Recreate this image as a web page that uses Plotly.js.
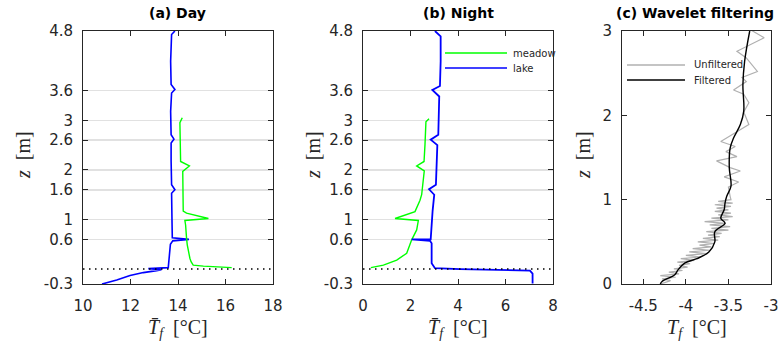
<!DOCTYPE html>
<html>
<head>
<meta charset="utf-8">
<script src="https://cdn.plot.ly/plotly-3.0.1.min.js"></script>
<style>html,body{margin:0;padding:0;background:#fff;}#chart{width:781px;height:345px;}</style>
</head>
<body>
<div id="chart"></div>
<script>
// ---------- DATA ----------
// Panel (a) Day
const dayLakeZ = [4.8, 4.73, 4.19, 3.72, 3.62, 3.55, 3.18, 2.71, 2.62, 2.54, 2.18, 1.70, 1.60, 1.53, 0.90, 0.63, 0.60, 0.57, 0.50, 0.30, 0.08, 0.03, 0.01, -0.01, -0.03, -0.07, -0.13, -0.22, -0.3];
const dayLakeT = [13.87, 13.73, 13.69, 13.71, 13.87, 13.73, 13.69, 13.71, 13.83, 13.71, 13.71, 13.73, 13.87, 13.73, 13.75, 13.76, 14.46, 13.78, 13.68, 13.65, 13.62, 13.59, 12.75, 13.3, 13.1, 12.54, 11.98, 11.42, 10.8];
const dayMeadowZ = [3.05, 2.95, 2.17, 2.08, 1.97, 1.17, 1.13, 1.02, 0.98, 0.89, 0.62, 0.49, 0.22, 0.15, 0.08, 0.06, 0.03];
const dayMeadowT = [14.18, 14.08, 14.11, 14.48, 14.2, 14.22, 14.36, 15.28, 14.29, 14.32, 14.36, 14.39, 14.5, 14.55, 14.64, 15.07, 16.26];
// Panel (b) Night
const nightLakeZ = [4.8, 4.69, 4.19, 3.69, 3.61, 3.48, 2.71, 2.61, 2.5, 1.70, 1.61, 1.50, 1.17, 0.83, 0.72, 0.60, 0.60, 0.57, 0.52, 0.12, 0.02, 0.0, -0.03, -0.09, -0.29];
const nightLakeT = [3.03, 3.27, 3.27, 3.24, 2.92, 3.21, 3.17, 2.85, 3.13, 3.07, 2.78, 3.0, 2.93, 2.89, 2.89, 2.85, 2.05, 2.82, 2.89, 2.89, 3.03, 4.08, 7.03, 7.14, 7.14];
const nightMeadowZ = [3.03, 2.97, 2.51, 2.17, 2.08, 1.98, 1.50, 1.39, 1.16, 1.02, 0.98, 0.79, 0.59, 0.32, 0.18, 0.08, 0.03];
const nightMeadowT = [2.78, 2.65, 2.61, 2.57, 2.26, 2.58, 2.47, 2.4, 2.19, 1.35, 2.33, 2.26, 2.05, 1.84, 1.42, 0.86, 0.33];
// Panel (c) Wavelet filtering
const unfilteredZ = [3.02, 2.92, 2.76, 2.68, 2.52, 2.45, 2.40, 2.30, 2.25, 2.15, 2.04, 1.89, 1.69, 1.63, 1.57, 1.51, 1.46, 1.38, 1.34, 1.27, 1.21, 1.15, 1.04,
  1.00, 0.98, 0.96, 0.94, 0.92, 0.90, 0.88, 0.86, 0.84, 0.82, 0.80, 0.78, 0.76, 0.74, 0.72, 0.70, 0.68, 0.66, 0.64, 0.62, 0.60, 0.58, 0.56, 0.54, 0.52, 0.50,
  0.48, 0.46, 0.44, 0.42, 0.40, 0.38, 0.36, 0.34, 0.32, 0.30, 0.28, 0.26, 0.24, 0.22, 0.20, 0.18, 0.16, 0.14, 0.12, 0.10, 0.08, 0.06, 0.04, 0.02, 0.0];
const unfilteredT = [-3.25, -3.08, -3.40, -3.29, -3.16, -3.34, -3.29, -3.44, -3.32, -3.26, -3.32, -3.26, -3.59, -3.42, -3.53, -3.40, -3.64, -3.48, -3.36, -3.55, -3.38, -3.50, -3.48,
  -3.47, -3.62, -3.45, -3.66, -3.47, -3.64, -3.50, -3.66, -3.47, -3.62, -3.45, -3.70, -3.50, -3.78, -3.53, -3.72, -3.48, -3.70, -3.50, -3.76, -3.58, -3.74, -3.60, -3.80, -3.62, -3.86,
  -3.66, -3.84, -3.70, -3.92, -3.72, -3.96, -3.76, -4.00, -3.82, -4.06, -3.90, -4.10, -3.95, -4.08, -3.98, -4.14, -4.04, -4.20, -4.08, -4.30, -4.12, -4.28, -4.18, -4.24, -4.30];
const filteredZ = [3.0, 2.64, 2.36, 2.05, 1.89, 1.73, 1.61, 1.38, 1.16, 1.04, 0.96, 0.88, 0.78, 0.72, 0.62, 0.50, 0.38, 0.30, 0.25, 0.17, 0.11, 0.03, 0.0];
const filteredT = [-3.25, -3.31, -3.33, -3.32, -3.36, -3.44, -3.48, -3.49, -3.47, -3.52, -3.54, -3.55, -3.59, -3.54, -3.66, -3.66, -3.73, -3.87, -4.01, -4.09, -4.13, -4.28, -4.30];

const panelTitles = ['(a) Day', '(b) Night', '(c) Wavelet filtering'];
const seriesNames = ['meadow', 'lake', 'Unfiltered', 'Filtered'];
const zTicksAB = [-0.3, 0.6, 1, 1.6, 2, 2.6, 3, 3.6, 4.8];
const zTickTextAB = ['-0.3', '0.6', '1', '1.6', '2', '2.6', '3', '3.6', '4.8'];
const zTicksC = [0, 1, 2, 3];
const xTicksA = [10, 12, 14, 16, 18];
const xTicksB = [0, 2, 4, 6, 8];
const xTicksC = [-4.5, -4, -3.5, -3];
const xTickTextC = ['-4.5', '-4', '-3.5', '-3'];
const surfaceZ = 0;

// ---------- STYLE ----------
const W = 781, H = 345;
const px = v => v / W, py = v => 1 - v / H;
const blue = '#0000ff', green = '#00ff00', grayC = '#b0b0b0';
const axCol = '#262626';
const tickFont = {family: 'DejaVu Sans', size: 15, color: axCol};

function xAxis(domain, range, vals, text, anchor) {
  const a = {domain, range, tickvals: vals, showline: true, mirror: 'ticks', linecolor: axCol, linewidth: 1,
    ticks: 'inside', ticklen: 5, tickcolor: axCol, tickfont: tickFont, zeroline: false, showgrid: false,
    anchor, fixedrange: true, ticklabelstandoff: 8};
  if (text) a.ticktext = text;
  return a;
}
function yAxis(range, vals, text, anchor, grid) {
  const a = {domain: [1 - 284 / H, 1 - 31 / H], range, tickvals: vals, showline: true, mirror: 'ticks', linecolor: axCol, linewidth: 1,
    ticks: 'inside', ticklen: 5, tickcolor: axCol, tickfont: tickFont, zeroline: false, showgrid: grid,
    gridcolor: '#e1e1e1', gridwidth: 1.5, anchor, fixedrange: true, ticklabelstandoff: 6};
  if (text) a.ticktext = text;
  return a;
}

const traces = [
  {x: dayLakeT, y: dayLakeZ, xaxis: 'x', yaxis: 'y', mode: 'lines', line: {color: blue, width: 1.6}, showlegend: false},
  {x: dayMeadowT, y: dayMeadowZ, xaxis: 'x', yaxis: 'y', mode: 'lines', line: {color: green, width: 1.4}, showlegend: false},
  {x: nightMeadowT, y: nightMeadowZ, xaxis: 'x2', yaxis: 'y2', mode: 'lines', line: {color: green, width: 1.4}, showlegend: false, name: seriesNames[0]},
  {x: nightLakeT, y: nightLakeZ, xaxis: 'x2', yaxis: 'y2', mode: 'lines', line: {color: blue, width: 1.8}, showlegend: false, name: seriesNames[1]},
  {x: unfilteredT, y: unfilteredZ, xaxis: 'x3', yaxis: 'y3', mode: 'lines', line: {color: grayC, width: 1.2}, showlegend: false, name: seriesNames[2]},
  {x: filteredT, y: filteredZ, xaxis: 'x3', yaxis: 'y3', mode: 'lines', line: {color: '#000000', width: 1.4, shape: 'spline'}, showlegend: false, name: seriesNames[3]}
];

const domA = [px(83), px(273)], domB = [px(363), px(553)], domC = [px(622), px(771)];
const mid = d => (d[0] + d[1]) / 2;

const titleFont = {family: 'DejaVu Sans', size: 14, color: '#000'};
const labFont = {family: 'Liberation Serif', size: 20, color: axCol};
const xLab = '<i>T̄</i><sub><i>f</i></sub>&nbsp;&nbsp;[°C]';
const xLabC = '<i>T</i><sub><i>f</i></sub>&nbsp;&nbsp;[°C]';
const yLab = '<i>z</i>&nbsp;&nbsp;[m]';
const legFont = {family: 'DejaVu Sans', size: 10, color: axCol};

function ann(text, x, y, font, extra) {
  return Object.assign({text, x, y, xref: 'paper', yref: 'paper', xanchor: 'center', yanchor: 'middle', showarrow: false, font}, extra || {});
}

const annotations = [
  ann('<b>' + panelTitles[0] + '</b>', mid(domA), py(13), titleFont),
  ann('<b>' + panelTitles[1] + '</b>', mid(domB), py(13), titleFont),
  ann('<b>' + panelTitles[2] + '</b>', mid(domC) - px(2), py(13), titleFont),
  ann(xLab, mid(domA), py(328), labFont),
  ann(xLab, mid(domB), py(328), labFont),
  ann(xLabC, mid(domC), py(328), labFont),
  ann(yLab, px(23), py(155), labFont, {textangle: -90}),
  ann(yLab, px(313), py(155), labFont, {textangle: -90}),
  ann(yLab, px(583), py(155), labFont, {textangle: -90}),
  // legends
  ann(seriesNames[0], px(511), py(53), legFont, {xanchor: 'left'}),
  ann(seriesNames[1], px(511), py(68), legFont, {xanchor: 'left'}),
  ann(seriesNames[2], px(692), py(65), legFont, {xanchor: 'left'}),
  ann(seriesNames[3], px(692), py(80), legFont, {xanchor: 'left'})
];

const shapes = [
  {type: 'line', xref: 'x domain', yref: 'y', x0: 0, x1: 1, y0: surfaceZ, y1: surfaceZ, line: {color: '#000', width: 1.5, dash: '1.5px,4.5px'}},
  {type: 'line', xref: 'x2 domain', yref: 'y2', x0: 0, x1: 1, y0: surfaceZ, y1: surfaceZ, line: {color: '#000', width: 1.5, dash: '1.5px,4.5px'}},
  {type: 'line', xref: 'paper', yref: 'paper', x0: px(445), x1: px(507), y0: py(53), y1: py(53), line: {color: green, width: 1.4}},
  {type: 'line', xref: 'paper', yref: 'paper', x0: px(445), x1: px(507), y0: py(68), y1: py(68), line: {color: blue, width: 1.6}},
  {type: 'line', xref: 'paper', yref: 'paper', x0: px(627), x1: px(685), y0: py(65), y1: py(65), line: {color: grayC, width: 1.4}},
  {type: 'line', xref: 'paper', yref: 'paper', x0: px(627), x1: px(685), y0: py(80), y1: py(80), line: {color: '#000', width: 1.4}}
];

const layout = {
  width: W, height: H, margin: {l: 0, r: 0, t: 0, b: 0}, paper_bgcolor: '#fff', plot_bgcolor: '#fff', showlegend: false,
  xaxis: xAxis(domA, [10, 18], xTicksA, null, 'y'),
  yaxis: yAxis([-0.3, 4.8], zTicksAB, zTickTextAB, 'x', true),
  xaxis2: xAxis(domB, [0, 8], xTicksB, null, 'y2'),
  yaxis2: yAxis([-0.3, 4.8], zTicksAB, zTickTextAB, 'x2', true),
  xaxis3: xAxis(domC, [-4.75, -3], xTicksC, xTickTextC, 'y3'),
  yaxis3: yAxis([0, 3], zTicksC, null, 'x3', false),
  annotations, shapes
};

Plotly.newPlot('chart', traces, layout, {staticPlot: true, displayModeBar: false});
</script>
</body>
</html>
